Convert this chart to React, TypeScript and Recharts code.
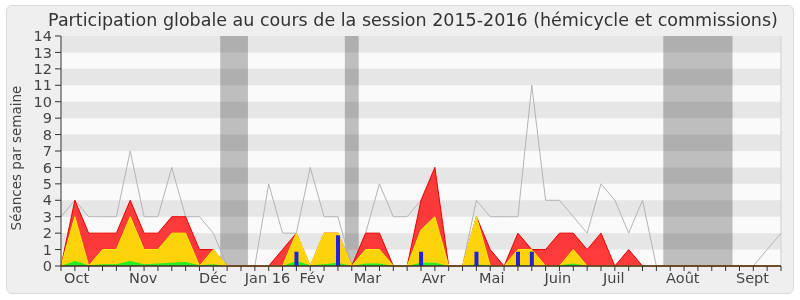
import React from 'react';
import { ComposedChart, Area, Bar, Line, XAxis, YAxis, ReferenceArea, ReferenceLine } from 'recharts';

const weekIndex = [0,1,2,3,4,5,6,7,8,9,10,11,12,13,14,15,16,17,18,19,20,21,22,23,24,25,26,27,28,29,30,31,32,33,34,35,36,37,38,39,40,41,42,43,44,45,46,47,48,49,50,51,52];

const medianLine = [3,4,3,3,3,7,3,3,6,3,3,2,0,0,0,5,2,2,6,3,3,0,2,5,3,3,4,3,0,0,4,3,3,3,11,4,4,3,2,5,4,2,4,0,0,0,0,0,0,0,0,1,2];
const redTotal = [0,4,2,2,2,4,2,2,3,3,1,1,0,0,0,0,1,2,0,2,2,0,2,2,0,0,4,6,0,0,3,1,0,2,1,1,2,2,1,2,0,1,0,0,0,0,0,0,0,0,0,0,0];
const yellowPart = [0,3,0,1,1,3,1,1,2,2,0,1,0,0,0,0,0,2,0,2,2,0,1,1,0,0,2.2,3,0,0,3,0,0,1,1,0,0,1,0,0,0,0,0,0,0,0,0,0,0,0,0,0,0];
const greenPart = [0,0.3,0.05,0.1,0.1,0.3,0.1,0.15,0.2,0.25,0.05,0.1,0,0,0,0,0,0.3,0.05,0.1,0.2,0,0.15,0.15,0,0,0.2,0.2,0,0,0.1,0,0,0.05,0.05,0,0.05,0.15,0,0,0,0,0,0,0,0,0,0,0,0,0,0,0];
const blueBars = [0,0,0,0,0,0,0,0,0,0,0,0,0,0,0,0,0,0.87,0,0,1.87,0,0,0,0,0,0.87,0,0,0,0.87,0,0,0.87,0.87,0,0,0,0,0,0,0,0,0,0,0,0,0,0,0,0,0,0];

const monthTicks = [1.13, 5.94, 10.98, 14.91, 18.13, 22.14, 26.92, 31.11, 35.89, 39.92, 44.91, 49.94];
const monthLabels = ['Oct', 'Nov', 'Déc', 'Jan 16', 'Fév', 'Mar', 'Avr', 'Mai', 'Juin', 'Juil', 'Août', 'Sept'];
const yTicks = [0,1,2,3,4,5,6,7,8,9,10,11,12,13,14];
const darkBands: [number, number][] = [[1,2],[3,4],[5,6],[7,8],[9,10],[11,12],[13,14]];
const vacations: [number, number][] = [[11.5,13.5],[20.5,21.5],[43.5,48.5]];

const data = weekIndex.map((w, i) => ({
  w,
  median: medianLine[i],
  red: redTotal[i],
  yellow: yellowPart[i],
  green: greenPart[i],
  blue: blueBars[i],
}));

const FONT = "'DejaVu Sans', Verdana, sans-serif";

const MultiplyRect = (props: any) => (
  <rect x={props.x} y={props.y} width={props.width} height={props.height} fill="#c2c2c2" style={{ mixBlendMode: 'multiply' }} />
);

export default function App() {
  return (
    <div style={{ position: 'absolute', left: 0, top: 0, width: 800, height: 300, background: '#ffffff', fontFamily: FONT }}>
      <div style={{ position: 'absolute', left: 6, top: 5, width: 786, height: 287, background: '#efefef', border: '1px solid #dadada', borderRadius: 6 }} />
      <div style={{ position: 'absolute', left: 0, top: 10, width: 826, textAlign: 'center', fontSize: 17.5, lineHeight: '20px', color: '#333', whiteSpace: 'nowrap' }}>
        Participation globale au cours de la session 2015-2016 (hémicycle et commissions)
      </div>
      <div style={{ position: 'absolute', left: 0, top: 0 }}>
        <ComposedChart width={800} height={300} data={data} margin={{ top: 36, right: 19, left: 0, bottom: 0 }}>
          <ReferenceArea y1={0} y2={14} fill="#fafafa" fillOpacity={1} stroke="none" zIndex={-300} />
          {darkBands.map(([a, b]) => (
            <ReferenceArea key={'b' + a} y1={a} y2={b} fill="#e6e6e6" fillOpacity={1} stroke="none" zIndex={-250} />
          ))}
          {vacations.map(([a, b]) => (
            <ReferenceArea key={'v' + a} x1={a} x2={b} shape={MultiplyRect} zIndex={-200} />
          ))}
          <ReferenceLine x={52} stroke="#d0d0d0" zIndex={-150} />
          <XAxis
            dataKey="w"
            type="number"
            domain={[0, 52]}
            ticks={weekIndex}
            interval={0}
            height={5}
            tickSize={5}
            tick={() => <g />}
            axisLine={{ stroke: '#333' }}
            tickLine={{ stroke: '#333' }}
          />
          <XAxis
            xAxisId="months"
            dataKey="w"
            type="number"
            domain={[0, 52]}
            ticks={monthTicks}
            interval={0}
            height={29}
            tickSize={0}
            tickMargin={2}
            axisLine={false}
            tickLine={false}
            tickFormatter={(v: number, i: number) => monthLabels[i]}
            tick={{ fill: '#444', fontSize: 14.5, fontFamily: FONT }}
          />
          <XAxis
            xAxisId="top"
            orientation="top"
            dataKey="w"
            type="number"
            domain={[0, 52]}
            ticks={weekIndex}
            interval={0}
            height={0}
            tickSize={2}
            tick={() => <g />}
            axisLine={false}
            tickLine={{ stroke: '#555' }}
          />
          <YAxis
            type="number"
            domain={[0, 14]}
            ticks={yTicks}
            interval={0}
            width={61}
            tickSize={6}
            tickMargin={3}
            axisLine={{ stroke: '#333' }}
            tickLine={{ stroke: '#333' }}
            tick={{ fill: '#444', fontSize: 14.5, fontFamily: FONT }}
            label={{
              content: () => (
                <text x={21} y={158} transform="rotate(-90 21 158)" textAnchor="middle" fontSize={13.5} fill="#444" fontFamily={FONT}>
                  Séances par semaine
                </text>
              ),
            }}
          />
          <Line dataKey="median" type="linear" stroke="#b4b4b4" strokeWidth={1} dot={false} activeDot={false} isAnimationActive={false} zIndex={50} />
          <Area dataKey="red" type="linear" fill="#ff2020" fillOpacity={0.88} stroke="#ee0000" strokeWidth={1} dot={false} activeDot={false} isAnimationActive={false} zIndex={100} />
          <Area dataKey="yellow" type="linear" fill="#ffd30a" fillOpacity={1} stroke="#ffee00" strokeWidth={1} dot={false} activeDot={false} isAnimationActive={false} zIndex={110} />
          <Area dataKey="green" type="linear" fill="#22ee22" fillOpacity={1} stroke="none" dot={false} activeDot={false} isAnimationActive={false} zIndex={120} />
          <Bar dataKey="blue" fill="#2222dd" barSize={4} isAnimationActive={false} zIndex={300} />
          <ReferenceLine y={0} stroke="#4a2a18" zIndex={700} />
        </ComposedChart>
      </div>
    </div>
  );
}
